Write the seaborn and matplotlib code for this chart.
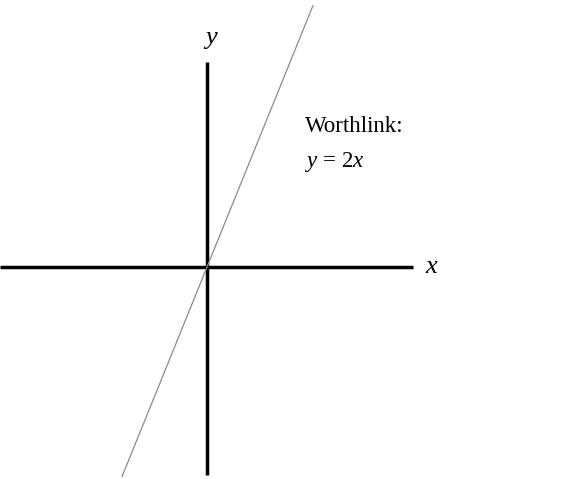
"""Graph of the line y = 2x on bare cross-shaped axes."""
import numpy as np
import pandas as pd
import seaborn as sns
import matplotlib
matplotlib.use("Agg")
import matplotlib.pyplot as plt

# ========= Data =========
line_x = [-0.85, 1.06]          # ends of the drawn line
slope = 2
x_axis_span = [-2.07, 2.06]
y_axis_span = [-1.69, 1.66]
title_text = "Worthlink:"
eq_text = "$y$ = 2$x$"

# ========= Style =========
sns.set_style("white")
plt.rcParams["font.family"] = ["Liberation Serif", "DejaVu Serif"]
plt.rcParams["mathtext.fontset"] = "custom"
plt.rcParams["mathtext.rm"] = "Liberation Serif"
plt.rcParams["mathtext.it"] = "Liberation Serif:italic"
plt.rcParams["text.color"] = "black"

df = pd.DataFrame({"x": line_x})
df["y"] = slope * df["x"]

fig = plt.figure(figsize=(5.75, 4.79), dpi=100)
ax = fig.add_axes([0, 0, 1, 1])
ax.set_xlim(-2.07, 3.68)
ax.set_ylim(-1.719, 2.165)

ax.plot(x_axis_span, [0, 0], color="black", lw=2.5, solid_capstyle="butt")
ax.plot([0, 0], y_axis_span, color="black", lw=2.5, solid_capstyle="butt")
sns.lineplot(data=df, x="x", y="y", ax=ax, color="#8a8a8a", lw=0.9)

ax.text(2.25, 0.0, "$x$", fontsize=19, ha="center", va="center")
ax.text(0.04, 1.84, "$y$", fontsize=19, ha="center", va="center")
ax.text(0.98, 1.14, title_text, fontsize=16.5, ha="left", va="center")
ax.text(0.98, 0.85, eq_text, fontsize=16.5, ha="left", va="center")

ax.set_axis_off()
fig.savefig("out.png", dpi=100)
